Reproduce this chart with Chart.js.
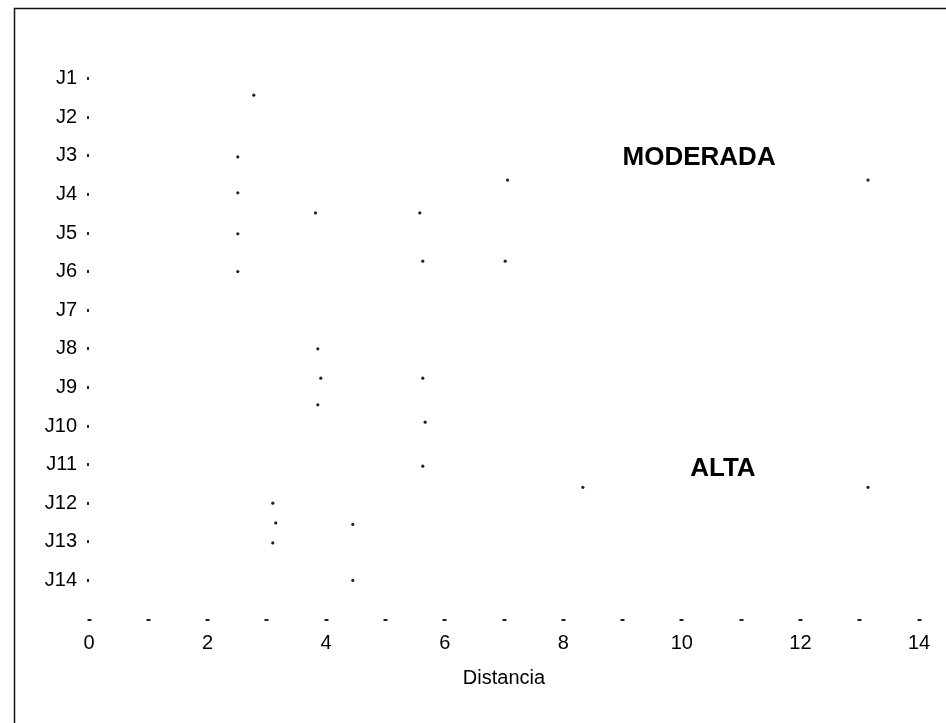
<!DOCTYPE html>
<html>
<head>
<meta charset="utf-8">
<title>Distancia</title>
<script src="https://cdn.jsdelivr.net/npm/chart.js@4"></script>
<style>
  html, body { margin: 0; padding: 0; background: #ffffff; }
  #wrap { width: 946px; height: 723px; position: relative; }
</style>
</head>
<body>
<div id="wrap"><canvas id="chart" width="946" height="723"></canvas></div>
<script>
// Row labels of the tree (one per case)
const yLabels = ['J1', 'J2', 'J3', 'J4', 'J5', 'J6', 'J7', 'J8', 'J9', 'J10', 'J11', 'J12', 'J13', 'J14'];

// Join points: distance at which clusters merge, and their vertical position in row units
const joinDistance = [2.78, 2.51, 2.51, 2.51, 2.51, 3.82, 5.58, 7.06, 13.14, 5.63, 7.02,
                      3.86, 3.91, 5.63, 3.86, 5.67, 5.63, 8.33, 13.14, 3.10, 3.15, 4.45, 3.10, 4.45];
const joinRow      = [1.43, 3.03, 3.96, 5.02, 6.00, 4.48, 4.48, 3.63, 3.63, 5.73, 5.73,
                      8.00, 8.76, 8.76, 9.45, 9.90, 11.04, 11.59, 11.59, 12.00, 12.51, 12.55, 13.03, 14.00];

// Group names written inside the plot
const groupNames = ['MODERADA', 'ALTA'];
const groupAnchorX = [9.0, 10.14];
const groupAnchorY = [3.06, 11.1];

const points = joinDistance.map((d, i) => ({ x: d, y: joinRow[i] }));

const FONT = "'Liberation Sans', Arial, sans-serif";

const framePlugin = {
  id: 'frame',
  beforeDraw(chart) {
    const ctx = chart.ctx;
    ctx.save();
    ctx.strokeStyle = '#111';
    ctx.lineWidth = 1.5;
    ctx.beginPath();
    ctx.moveTo(14.5, chart.height);
    ctx.lineTo(14.5, 8.5);
    ctx.lineTo(chart.width, 8.5);
    ctx.stroke();
    ctx.restore();
  }
};

const groupLabelPlugin = {
  id: 'groupLabels',
  afterDatasetsDraw(chart) {
    const { ctx, scales } = chart;
    ctx.save();
    ctx.fillStyle = '#000';
    ctx.font = "bold 26px " + FONT;
    ctx.textAlign = 'left';
    ctx.textBaseline = 'middle';
    groupNames.forEach((name, i) => {
      ctx.fillText(name, scales.x.getPixelForValue(groupAnchorX[i]), scales.y.getPixelForValue(groupAnchorY[i]));
    });
    ctx.restore();
  }
};

new Chart(document.getElementById('chart'), {
  type: 'scatter',
  data: {
    datasets: [{
      data: points,
      pointRadius: 1.6,
      pointHoverRadius: 1.6,
      pointBackgroundColor: '#222',
      pointBorderWidth: 0,
      showLine: false
    }]
  },
  options: {
    responsive: false,
    animation: false,
    devicePixelRatio: 1,
    layout: { padding: { left: 0, top: 40, right: 27, bottom: 33 } },
    plugins: {
      legend: { display: false },
      tooltip: { enabled: false }
    },
    scales: {
      x: {
        type: 'linear',
        min: 0,
        max: 14,
        border: { display: false },
        grid: {
          drawOnChartArea: false,
          drawTicks: true,
          tickLength: 2,
          tickWidth: 4,
          tickColor: '#222'
        },
        ticks: {
          stepSize: 1,
          autoSkip: false,
          maxRotation: 0,
          padding: 10,
          color: '#000',
          font: { family: FONT, size: 20 },
          callback: v => (v % 2 === 0 ? String(v) : '')
        },
        title: {
          display: true,
          text: 'Distancia',
          color: '#000',
          padding: { top: 0, bottom: 0 },
          font: { family: FONT, size: 20 }
        },
        afterFit: s => { s.height = 71; }
      },
      y: {
        type: 'linear',
        min: 0,
        max: 15,
        reverse: true,
        border: { display: false },
        grid: {
          drawOnChartArea: false,
          drawTicks: true,
          tickLength: 2,
          tickWidth: 3,
          tickColor: '#222'
        },
        ticks: {
          stepSize: 1,
          autoSkip: false,
          padding: 10,
          color: '#000',
          font: { family: FONT, size: 20 },
          callback: v => (v >= 1 && v <= yLabels.length ? yLabels[v - 1] : null)
        },
        afterFit: s => { s.width = 89; }
      }
    }
  },
  plugins: [framePlugin, groupLabelPlugin]
});
</script>
</body>
</html>
